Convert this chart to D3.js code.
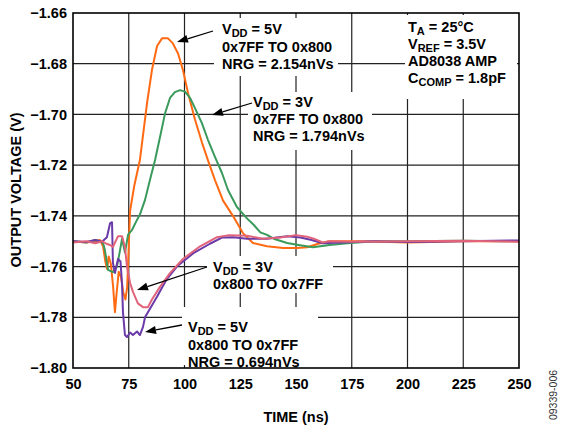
<!DOCTYPE html>
<html>
<head>
<meta charset="utf-8">
<script src="https://cdn.jsdelivr.net/npm/d3@7"></script>
<style>
  body { margin: 0; background: #fff; }
  svg { font-family: "Liberation Sans", Arial, sans-serif; }
</style>
</head>
<body>
<div id="chart"></div>
<script>
// 時間軸與電壓軸的刻度
const timeTicks = [50, 75, 100, 125, 150, 175, 200, 225, 250];
const voltTicks = [-1.80, -1.78, -1.76, -1.74, -1.72, -1.70, -1.68, -1.66];

// VDD = 5V, 0x7FF TO 0x800 (orange)
const time5vUp = [50, 56, 60, 62, 63.5, 64.5, 65.3, 66, 67, 68, 68.8, 69.5, 70.5, 71.5, 72.5, 73.5, 74.3, 75, 75.6, 77.5, 80, 83.2, 85.4, 87.7, 89.9, 92.6, 94.8, 97.1, 99.3, 101.6, 104.7, 107.8, 110.5, 113.7, 117.3, 121.7, 126.2, 130.7, 137, 144.2, 150.4, 155, 160, 165, 180, 200, 225, 250];
const volt5vUp = [-1.750, -1.7505, -1.750, -1.7495, -1.752, -1.758, -1.761, -1.756, -1.759, -1.768, -1.778, -1.771, -1.762, -1.764, -1.770, -1.773, -1.768, -1.752, -1.738, -1.728, -1.718, -1.6955, -1.6825, -1.673, -1.670, -1.670, -1.672, -1.676, -1.6825, -1.6916, -1.702, -1.711, -1.718, -1.726, -1.734, -1.740, -1.7468, -1.7507, -1.752, -1.7527, -1.7527, -1.7524, -1.751, -1.750, -1.750, -1.7505, -1.750, -1.750];

// VDD = 3V, 0x7FF TO 0x800 (green)
const time3vUp = [50, 56, 60, 62, 63.5, 64.3, 65.7, 67.9, 69.7, 71.1, 72, 73.3, 74.7, 76.5, 78.7, 80, 82.3, 84.5, 86.8, 89, 91.3, 93.5, 95.7, 98, 100.2, 102.5, 104.7, 107.8, 110.5, 113.7, 116.8, 119.5, 123.5, 128, 131, 134, 137, 140, 146, 151.8, 157.6, 165, 173, 185, 200, 225, 250];
const volt3vUp = [-1.750, -1.7505, -1.7495, -1.750, -1.7508, -1.7535, -1.7613, -1.7622, -1.760, -1.7535, -1.749, -1.7545, -1.7474, -1.7455, -1.7416, -1.7395, -1.7337, -1.7259, -1.718, -1.709, -1.6995, -1.6935, -1.6912, -1.6904, -1.691, -1.6935, -1.6975, -1.7034, -1.710, -1.7168, -1.7231, -1.7298, -1.7365, -1.741, -1.7435, -1.7465, -1.7475, -1.749, -1.7507, -1.7516, -1.7524, -1.7515, -1.7508, -1.750, -1.750, -1.7498, -1.750];

// VDD = 5V, 0x800 TO 0x7FF (purple)
const time5vDown = [50, 56, 60, 63, 65.2, 66.6, 67.5, 67.9, 68.8, 70.2, 71.3, 72, 72.4, 73.3, 74.2, 75.6, 76.9, 78.7, 80, 81.4, 82.3, 83.6, 87.6, 92, 96.6, 104, 111.4, 117, 122, 128, 137, 146, 152, 157, 162, 170, 185, 200, 225, 250];
const volt5vDown = [-1.750, -1.7503, -1.7495, -1.7502, -1.7484, -1.743, -1.7425, -1.7585, -1.7625, -1.757, -1.758, -1.767, -1.778, -1.787, -1.7878, -1.786, -1.787, -1.7856, -1.787, -1.7838, -1.780, -1.778, -1.772, -1.765, -1.760, -1.7547, -1.751, -1.7485, -1.7484, -1.749, -1.749, -1.748, -1.7485, -1.7495, -1.7508, -1.7505, -1.750, -1.7503, -1.750, -1.7497];

// VDD = 3V, 0x800 TO 0x7FF (pink)
const time3vDown = [50, 56, 60, 63, 65, 66.6, 67.9, 70.2, 72, 73.3, 74.2, 75.6, 76.9, 79.1, 81.4, 83.6, 85.4, 89, 93.5, 99.3, 107, 114.6, 120, 128, 135, 143, 150, 155, 158, 162, 165, 175, 200, 225, 250];
const volt3vDown = [-1.7505, -1.750, -1.7508, -1.750, -1.751, -1.7515, -1.7523, -1.748, -1.748, -1.7523, -1.760, -1.7665, -1.770, -1.7745, -1.776, -1.776, -1.773, -1.768, -1.7626, -1.757, -1.752, -1.7484, -1.7476, -1.7478, -1.749, -1.7485, -1.7476, -1.7482, -1.749, -1.7505, -1.750, -1.7502, -1.750, -1.7498, -1.7502];

const seriesColors = ["#ff6a13", "#3a9a5c", "#6a3aa8", "#e0637a"];

// 註解文字
const noteUp5 = ["V|DD| = 5V", "0x7FF TO 0x800", "NRG = 2.154nVs"];
const noteUp3 = ["V|DD| = 3V", "0x7FF TO 0x800", "NRG = 1.794nVs"];
const noteDown3 = ["V|DD| = 3V", "0x800 TO 0x7FF"];
const noteDown5 = ["V|DD| = 5V", "0x800 TO 0x7FF", "NRG = 0.694nVs"];
const noteCond = ["T|A| = 25°C", "V|REF| = 3.5V", "AD8038 AMP", "C|COMP| = 1.8pF"];

const W = 566, H = 434;
const svg = d3.select("#chart").append("svg")
    .attr("width", W).attr("height", H);

const x = d3.scaleLinear().domain([50, 250]).range([73, 519]);
const y = d3.scaleLinear().domain([-1.80, -1.66]).range([368, 13]);

// 格線
svg.append("g").selectAll("line.v")
    .data(timeTicks.slice(1, -1)).enter().append("line")
    .attr("x1", d => x(d)).attr("x2", d => x(d))
    .attr("y1", y(-1.66)).attr("y2", y(-1.80))
    .attr("stroke", "#222").attr("stroke-width", 1.2);
svg.append("g").selectAll("line.h")
    .data(voltTicks.slice(1, -1)).enter().append("line")
    .attr("x1", x(50)).attr("x2", x(250))
    .attr("y1", d => y(d)).attr("y2", d => y(d))
    .attr("stroke", "#222").attr("stroke-width", 1.2);

// 註解底色（遮住格線）
const boxes = [
    [214, 18, 124, 58],
    [248, 92, 124, 58],
    [207, 256, 126, 37],
    [182, 307, 136, 58],
    [405, 15, 112, 84]
];
svg.append("g").selectAll("rect")
    .data(boxes).enter().append("rect")
    .attr("x", d => d[0]).attr("y", d => d[1])
    .attr("width", d => d[2]).attr("height", d => d[3])
    .attr("fill", "#fff");

// 曲線
const series = [
    [time5vUp, volt5vUp],
    [time3vUp, volt3vUp],
    [time5vDown, volt5vDown],
    [time3vDown, volt3vDown]
];
const line = d3.line().x(d => x(d[0])).y(d => y(d[1]));
svg.append("g").selectAll("path")
    .data(series).enter().append("path")
    .attr("d", s => line(s[0].map((t, i) => [t, s[1][i]])))
    .attr("fill", "none")
    .attr("stroke", (s, i) => seriesColors[i])
    .attr("stroke-width", 2)
    .attr("stroke-linejoin", "round");

// 外框
svg.append("rect")
    .attr("x", x(50)).attr("y", y(-1.66))
    .attr("width", x(250) - x(50)).attr("height", y(-1.80) - y(-1.66))
    .attr("fill", "none").attr("stroke", "#000").attr("stroke-width", 1.6);

// 軸
const xAxis = svg.append("g")
    .attr("transform", `translate(0,${y(-1.80)})`)
    .call(d3.axisBottom(x).tickValues(timeTicks).tickSize(0).tickPadding(11));
const yAxis = svg.append("g")
    .attr("transform", `translate(${x(50)},0)`)
    .call(d3.axisLeft(y).tickValues(voltTicks).tickSize(0).tickPadding(6).tickFormat(d3.format(".2f")));
[xAxis, yAxis].forEach(a => {
    a.select(".domain").remove();
    a.selectAll("text")
        .attr("fill", "#000")
        .style("font-family", "'Liberation Sans', Arial, sans-serif")
        .style("font-size", "14.5px")
        .style("font-weight", "bold");
});

svg.append("text")
    .attr("x", 296).attr("y", 422)
    .attr("text-anchor", "middle")
    .style("font-size", "14.5px").style("font-weight", "bold")
    .text("TIME (ns)");
svg.append("text")
    .attr("transform", "translate(21,190) rotate(-90)")
    .attr("text-anchor", "middle")
    .style("font-size", "14.5px").style("font-weight", "bold")
    .text("OUTPUT VOLTAGE (V)");
svg.append("text")
    .attr("transform", "translate(557,395) rotate(-90)")
    .attr("text-anchor", "middle")
    .style("font-size", "10.5px").attr("fill", "#333")
    .text("09339-006");

// 多行註解，"|" 之間為下標
function note(lines, x0, y0, gap) {
    const g = svg.append("g")
        .style("font-size", "14.5px").style("font-weight", "bold");
    lines.forEach((str, i) => {
        const t = g.append("text").attr("x", x0).attr("y", y0 + i * gap);
        str.split("|").forEach((part, j) => {
            if (j % 2 === 1) {
                t.append("tspan").attr("dy", 3).style("font-size", "11px").text(part);
            } else {
                t.append("tspan").attr("dy", j > 0 ? -3 : 0).text(part);
            }
        });
    });
}
note(noteUp5, 222, 34, 17.5);
note(noteUp3, 253, 107, 17);
note(noteDown3, 213, 272, 16.5);
note(noteDown5, 188, 332, 17.5);
note(noteCond, 408, 32, 17);

// 箭頭
const arrows = [
    [[213, 31], [177, 42]],
    [[252, 103], [212, 115]],
    [[207, 267], [137, 290]],
    [[182, 325], [145, 332]]
];
arrows.forEach(([a, b]) => {
    const ang = Math.atan2(b[1] - a[1], b[0] - a[0]);
    const len = 11, half = 4;
    const bx = b[0] - len * Math.cos(ang), by = b[1] - len * Math.sin(ang);
    svg.append("line")
        .attr("x1", a[0]).attr("y1", a[1]).attr("x2", bx).attr("y2", by)
        .attr("stroke", "#000").attr("stroke-width", 1.3);
    const px = -Math.sin(ang) * half, py = Math.cos(ang) * half;
    svg.append("path")
        .attr("d", `M${b[0]},${b[1]}L${bx + px},${by + py}L${bx - px},${by - py}Z`)
        .attr("fill", "#000");
});
</script>
</body>
</html>
